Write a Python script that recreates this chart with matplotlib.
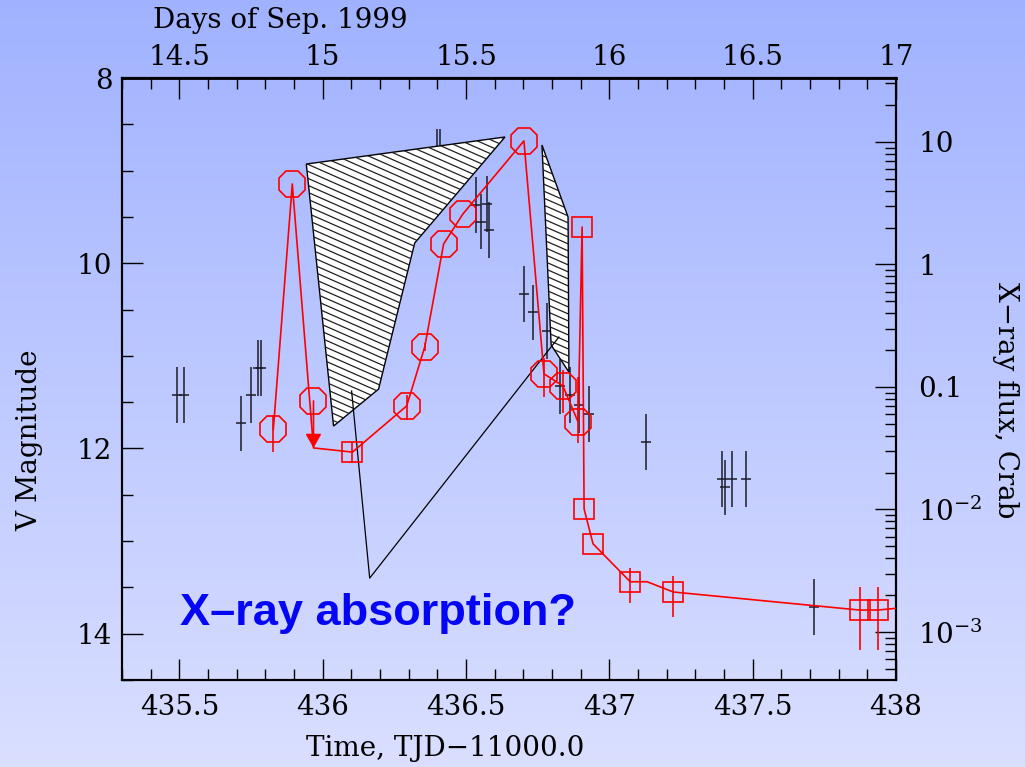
import numpy as np
import matplotlib
matplotlib.use("Agg")
import matplotlib.pyplot as plt
from matplotlib.patches import Polygon
from matplotlib.collections import LineCollection
from matplotlib.ticker import (
    MultipleLocator,
    FuncFormatter,
    FixedLocator,
    FixedFormatter,
    LogLocator,
    NullFormatter,
)

plt.rcParams["font.family"] = ["DejaVu Serif"]
plt.rcParams["mathtext.fontset"] = "dejavuserif"

# Optical V photometry (TJD-11000, V mag, 1-sigma)
opt_t = [435.492, 435.517, 435.716, 435.751, 435.776, 435.786,
         436.398, 436.408, 436.534, 436.552, 436.573, 436.580,
         436.702, 436.734, 436.783, 436.828, 436.863, 436.894,
         436.929, 437.129, 437.394, 437.405, 437.429, 437.475,
         437.713]
opt_v = [11.42, 11.42, 11.73, 11.42, 11.13, 11.13,
         8.85, 8.85, 9.37, 9.55, 9.36, 9.64,
         10.33, 10.53, 10.73, 11.33, 11.42, 11.53,
         11.63, 11.93, 12.33, 12.42, 12.33, 12.33,
         13.71]
opt_err = [0.3] * len(opt_t)

# X-ray light curve, Crab units (line vertices, error range, marker)
xr_t = [435.828, 435.894, 435.968, 436.104, 436.293, 436.356,
        436.422, 436.489, 436.702, 436.772, 436.838, 436.891,
        436.905, 436.912, 436.943, 437.073, 437.132, 437.223,
        437.873, 437.936, 438.05]
xr_flux = [0.0454, 4.54, 0.0318, 0.0294, 0.070, 0.212,
           1.47, 2.58, 10.2, 0.128, 0.102, 0.0518,
           2.02, 0.0101, 0.00525, 0.00257, 0.00257, 0.00212,
           0.00151, 0.00151, 0.0016]
xr_lo = [0.0294, 4.54, 0.0318, 0.024, 0.0537, 0.195,
         1.47, 2.58, 10.2, 0.083, 0.0614, 0.0349,
         2.02, 0.0101, 0.00525, 0.00173, 0.00257, 0.00132,
         0.000713, 0.000713, 0.0016]
xr_hi = [0.059, 4.54, 0.0318, 0.0356, 0.086, 0.23,
         1.47, 2.58, 10.2, 0.173, 0.138, 0.121,
         2.02, 0.0101, 0.00525, 0.00333, 0.00257, 0.00286,
         0.00233, 0.00233, 0.0016]
xr_mark = ["o", "o", "ul", "s", "o", "o",
           "o", "o", "o", "o", "o", "o",
           "s", "s", "s", "s", "", "s",
           "s", "s", ""]
ul_flux = 0.0769  # upper-limit circle; arrow down to the line vertex

# hatched regions and pointer line (TJD, V)
poly_wide = [(435.943, 8.929), (436.636, 8.637), (436.321, 9.782),
             (436.195, 11.359), (436.038, 11.758)]
poly_narrow = [(436.765, 8.724), (436.856, 9.501), (436.859, 11.175),
               (436.797, 10.883)]
pointer = [(436.101, 11.380), (436.164, 13.400), (436.824, 10.797)]

top_ticks = [14.5, 15, 15.5, 16, 16.5, 17]

RED = "#ff0000"
TXT = 20

fig = plt.figure(figsize=(10.25, 7.67), dpi=100)

# background gradient
bg = fig.add_axes([0, 0, 1, 1], zorder=-1)
top_c = np.array([0.63, 0.70, 1.0])
bot_c = np.array([0.855, 0.875, 1.0])
f = np.linspace(0, 1, 256)[:, None]
grad = top_c[None, :] * (1 - f) + bot_c[None, :] * f
bg.imshow(grad[:, None, :], aspect="auto", extent=(0, 1, 0, 1))
bg.axis("off")

ax = fig.add_axes([122 / 1025, 87 / 767, 774 / 1025, 602 / 767])
ax.patch.set_visible(False)
ax.set_xlim(435.3, 438.0)
ax.set_ylim(14.5, 8.0)

# optical points
ax.errorbar(opt_t, opt_v, yerr=opt_err, fmt="none",
            ecolor="#1c1c28", elinewidth=1.1, zorder=2)
ax.plot(opt_t, opt_v, ls="none", marker="_", ms=7, mew=1.1,
        color="#1c1c28", zorder=2)

# hatched polygons
W, H = 774.0, 602.0
slope = 0.44
step = 7.0
offs = np.arange(-slope * W, H + slope * W, step)
for verts in (poly_wide, poly_narrow):
    poly = Polygon(verts, closed=True, facecolor="white",
                   edgecolor="black", lw=1.0, zorder=3)
    ax.add_patch(poly)
    segs = [[(0, b / H), (1, (b - slope * W) / H)] for b in offs]
    lc = LineCollection(segs, colors="#202020", linewidths=0.9,
                        transform=ax.transAxes, zorder=3.2)
    ax.add_collection(lc)
    lc.set_clip_path(poly)

px, py = zip(*pointer)
ax.plot(px, py, color="black", lw=0.9, zorder=3.3)

ax.text(0.075, 0.091, "X–ray absorption?", transform=ax.transAxes,
        family="Liberation Sans", weight="bold", fontsize=32.5,
        color="#0505f5", va="baseline", ha="left")

# axes styling, left / bottom
fmt_g = FuncFormatter(lambda v, p: "%g" % v)
ax.xaxis.set_major_locator(MultipleLocator(0.5))
ax.xaxis.set_minor_locator(MultipleLocator(0.1))
ax.xaxis.set_major_formatter(fmt_g)
ax.yaxis.set_major_locator(MultipleLocator(2))
ax.yaxis.set_minor_locator(MultipleLocator(0.5))
ax.yaxis.set_major_formatter(fmt_g)
ax.tick_params(which="both", direction="in", top=False, right=False,
               width=1.0, labelsize=TXT)
ax.tick_params(which="major", length=15)
ax.tick_params(which="minor", length=8)
ax.tick_params(axis="x", which="major", pad=10)
ax.tick_params(axis="y", which="major", pad=7)
for s in ax.spines.values():
    s.set_linewidth(1.5)

# top axis: days of Sep. 1999
sec = ax.secondary_xaxis("top", functions=(lambda t: t - 421,
                                           lambda d: d + 421))
sec.xaxis.set_major_locator(FixedLocator(top_ticks))
sec.xaxis.set_minor_locator(MultipleLocator(0.1))
sec.xaxis.set_major_formatter(fmt_g)
sec.tick_params(which="both", direction="in", width=1.0, labelsize=TXT)
sec.tick_params(which="major", length=15, pad=5)
sec.tick_params(which="minor", length=8)
sec.spines["top"].set_linewidth(2.0)

# right axis: X-ray flux
ax2 = ax.twinx()
ax2.set_yscale("log")
ax2.set_ylim(10 ** -3.392, 10 ** 1.522)
ax2.set_xlim(435.3, 438.0)
ax2.yaxis.set_major_locator(FixedLocator([1e-3, 1e-2, 0.1, 1, 10]))
ax2.yaxis.set_major_formatter(FixedFormatter(
    [r"$10^{-3}$", r"$10^{-2}$", "0.1", "1", "10"]))
ax2.yaxis.set_minor_locator(LogLocator(base=10, subs=np.arange(2, 10)))
ax2.yaxis.set_minor_formatter(NullFormatter())
ax2.tick_params(which="both", direction="in", width=1.0, labelsize=TXT)
ax2.tick_params(which="major", length=15, pad=16)
ax2.tick_params(which="minor", length=8)
for s in ax2.spines.values():
    s.set_linewidth(1.5)

ax2.plot(xr_t, xr_flux, color=RED, lw=1.2, zorder=4)
for t, lo, hi in zip(xr_t, xr_lo, xr_hi):
    if hi > lo:
        ax2.vlines(t, lo, hi, color=RED, lw=1.2, zorder=4)
for t, v, m in zip(xr_t, xr_flux, xr_mark):
    if m == "o":
        ax2.plot(t, v, marker="8", ms=21, mfc="none", mec=RED,
                 mew=1.2, zorder=5)
    elif m == "s":
        ax2.plot(t, v, marker="s", ms=14.5, mfc="none", mec=RED,
                 mew=1.2, zorder=5)
    elif m == "ul":
        ax2.plot(t, ul_flux, marker="8", ms=21, mfc="none", mec=RED,
                 mew=1.2, zorder=5)
        ax2.annotate("", xy=(t, v), xytext=(t, ul_flux),
                     arrowprops=dict(
                         arrowstyle="-|>,head_length=0.7,head_width=0.4",
                         color=RED, lw=1.2, shrinkA=0, shrinkB=0,
                         mutation_scale=12),
                     zorder=5)

# axis titles
ax.text(0.417, -0.113, "Time, TJD−11000.0", transform=ax.transAxes,
        fontsize=TXT, ha="center", va="center")
ax.text(0.204, 1.096, "Days of Sep. 1999", transform=ax.transAxes,
        fontsize=TXT, ha="center", va="center")
ax.text(-0.119, 0.399, "V Magnitude", transform=ax.transAxes,
        fontsize=TXT, ha="center", va="center", rotation=90)
ax.text(1.141, 0.465, "X−ray flux, Crab", transform=ax.transAxes,
        fontsize=TXT, ha="center", va="center", rotation=-90)

fig.savefig("out.png", dpi=100)
